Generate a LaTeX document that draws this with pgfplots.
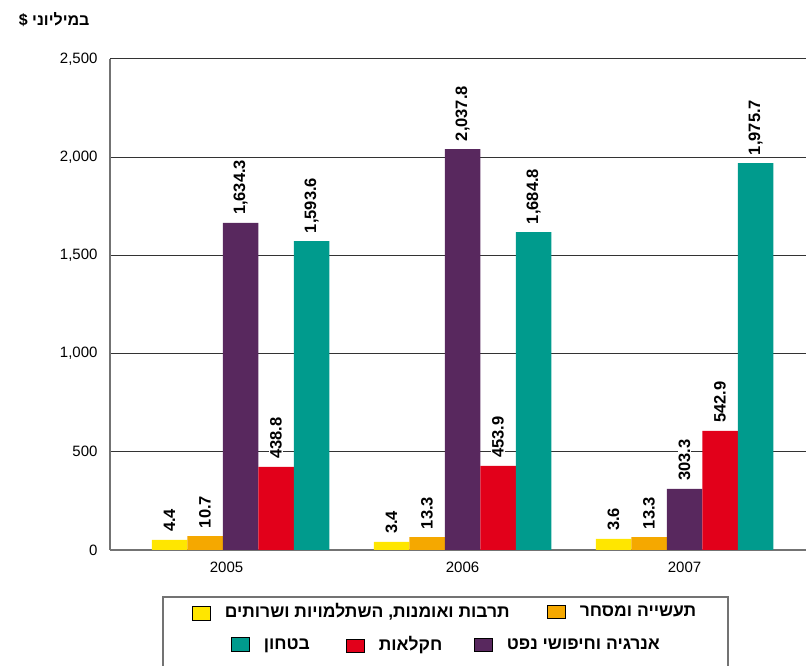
\documentclass[border=0pt]{standalone}
\usepackage{fontspec}
\setmainfont{Liberation Sans}
\newfontfamily\hebfont[Script=Hebrew]{Liberation Sans}
\TeXXeTstate=1
\usepackage{pgfplots}
\usepackage{pgfplotstable}
\pgfplotsset{compat=1.18}
\definecolor{cyel}{HTML}{FFE600}
\definecolor{cora}{HTML}{F5A800}
\definecolor{cpur}{HTML}{58285E}
\definecolor{cred}{HTML}{E2001A}
\definecolor{ctea}{HTML}{009B8D}
\newcommand\swatch[1]{{\setlength\fboxsep{0pt}\setlength\fboxrule{0.8pt}\raisebox{-2pt}{\fcolorbox{black}{#1}{\rule{0pt}{13pt}\rule{17pt}{0pt}}}}}
% visual bar height, printed label
\pgfplotstableread{
x y lab
0 51 4.4
1 41 3.4
2 56 3.6
}\tyel
\pgfplotstableread{
x y lab
0 71 10.7
1 66 13.3
2 66 13.3
}\tora
\pgfplotstableread{
x y lab
0 1665 1,634.3
1 2041 2,037.8
2 311 303.3
}\tpur
\pgfplotstableread{
x y lab
0 423 438.8
1 428 453.9
2 606 542.9
}\tred
\pgfplotstableread{
x y lab
0 1573 1,593.6
1 1619 1,684.8
2 1970 1,975.7
}\ttea
\begin{document}
\begin{tikzpicture}
\path[use as bounding box] (0,0) rectangle (806pt,666pt);
\begin{axis}[
  at={(110pt,116pt)}, anchor=south west,
  scale only axis, width=696pt, height=491pt,
  xmin=-0.588, xmax=2.547, ymin=0, ymax=2500,
  ybar=0pt, bar width=35.5pt,
  axis x line*=bottom, axis y line*=left,
  axis line style={-, draw=black!55, line width=1.3pt},
  ytick={0,500,...,2500},
  ymajorgrids, grid style={draw=black!80, line width=1pt},
  xtick={0,1,2}, xticklabels={\hspace{-28pt}2005,2006,2007},
  major tick length=0pt,
  tick label style={font=\fontsize{15}{18}\selectfont},
  yticklabel style={xshift=-9pt},
  xticklabel style={yshift=-8pt},
  /pgf/number format/1000 sep={,},
  /pgf/number format/assume math mode=true,
  nodes near coords, point meta=explicit symbolic,
  every node near coord/.append style={rotate=90, anchor=west,
     font=\bfseries\fontsize{16.5}{18}\selectfont, fill=white,
     inner sep=1pt, outer sep=7pt},
]
\addplot[fill=cyel, draw=none] table[x=x, y=y, meta=lab] {\tyel};
\addplot[fill=cora, draw=none] table[x=x, y=y, meta=lab] {\tora};
\addplot[fill=cpur, draw=none] table[x=x, y=y, meta=lab] {\tpur};
\addplot[fill=cred, draw=none] table[x=x, y=y, meta=lab] {\tred};
\addplot[fill=ctea, draw=none] table[x=x, y=y, meta=lab] {\ttea};
\end{axis}
\node[anchor=east, font=\hebfont\bfseries\fontsize{16}{18}\selectfont] at (93pt,646pt) {\beginR במיליוני \$\endR};
\draw[black!55, line width=1.2pt] (163pt,-10pt) rectangle (728pt,69pt);
\begin{scope}[every node/.style={anchor=west, inner sep=0pt, font=\hebfont\bfseries\fontsize{17.5}{19}\selectfont}]
\node at (192pt,54pt) {\swatch{cyel}\hspace{14pt}\beginR תרבות ואומנות, השתלמויות ושרותים\endR};
\node at (547pt,54pt) {\swatch{cora}\hspace{14pt}\beginR תעשייה ומסחר\endR};
\node at (231pt,21pt) {\swatch{ctea}\hspace{14pt}\beginR בטחון\endR};
\node at (346pt,21pt) {\swatch{cred}\hspace{14pt}\beginR חקלאות\endR};
\node at (474pt,21pt) {\swatch{cpur}\hspace{14pt}\beginR אנרגיה וחיפושי נפט\endR};
\end{scope}
\end{tikzpicture}
\end{document}
